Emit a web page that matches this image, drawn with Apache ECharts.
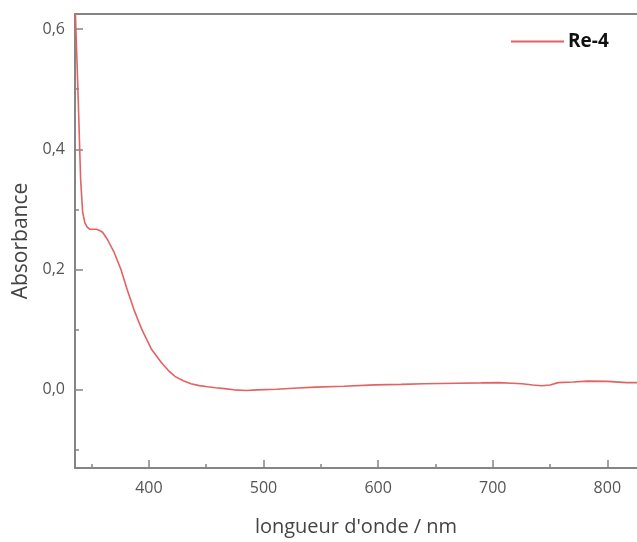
<!DOCTYPE html>
<html>
<head>
<meta charset="utf-8">
<script src="https://cdn.jsdelivr.net/npm/echarts@6/dist/echarts.min.js"></script>
<style>
html,body{margin:0;padding:0;background:#fff;}
#chart{width:637px;height:542px;}
</style>
</head>
<body>
<div id="chart"></div>
<script>
// Data (wavelength in nm, absorbance)
var wavelength = [335.6, 337.0, 338.3, 340.4, 342.2, 344.1, 346.0, 348.4, 354.2, 357.0, 359.6, 363.8, 369.8, 375.6, 381.0, 387.0, 393.9, 402.4, 411.0, 417.0, 423.0, 430.0, 436.7, 444.0, 451.3, 458.0, 465.9, 474.2, 485.0, 494.2, 511.3, 530.0, 545.6, 570.0, 597.0, 620.0, 639.9, 669.0, 690.0, 705.6, 716.7, 725.6, 735.0, 742.8, 750.0, 757.1, 770.0, 782.8, 800.0, 817.0, 826.0];
var absorbance = [0.640, 0.560, 0.483, 0.350, 0.295, 0.278, 0.271, 0.267, 0.267, 0.265, 0.262, 0.250, 0.228, 0.200, 0.167, 0.133, 0.100, 0.067, 0.045, 0.032, 0.022, 0.015, 0.010, 0.007, 0.005, 0.0035, 0.002, 0.000, -0.001, 0.000, 0.001, 0.003, 0.0045, 0.006, 0.0083, 0.009, 0.010, 0.011, 0.0115, 0.012, 0.011, 0.010, 0.008, 0.0067, 0.008, 0.012, 0.013, 0.0145, 0.014, 0.012, 0.012];
var seriesName = 'Re-4';
var xMajorTicks = [400, 500, 600, 700, 800];
var xMinorTicks = [350, 450, 550, 650, 750];
var yMajorTicks = [0, 0.2, 0.4, 0.6];
var yMinorTicks = [-0.1, 0.1, 0.3, 0.5];
var xTitle = "longueur d'onde / nm";
var yTitle = 'Absorbance';

var xMin = 335.5, xMax = 825.9, yMin = -0.130, yMax = 0.625;
var axisColor = '#858585';
var labelColor = '#555555';
var font = 'Open Sans';

var points = wavelength.map(function (w, i) { return [w, absorbance[i]]; });

var chart = echarts.init(document.getElementById('chart'), null, {renderer: 'canvas'});
chart.setOption({
  backgroundColor: '#ffffff',
  animation: false,
  textStyle: {fontFamily: font},
  grid: {left: 75, right: -10, top: 14, bottom: 73, containLabel: false},
  legend: {
    left: 506, top: 27,
    icon: 'rect', itemWidth: 53, itemHeight: 2, itemGap: 5,
    textStyle: {fontFamily: font, fontSize: 19, fontWeight: 'bold', color: '#111', padding: [0, 0, 0, -1]},
    data: [seriesName]
  },
  xAxis: [{
    type: 'value', position: 'bottom', min: xMin, max: xMax,
    axisLine: {show: true, onZero: false, lineStyle: {color: axisColor, width: 2}},
    axisTick: {show: true, inside: true, length: 8, customValues: xMajorTicks, lineStyle: {color: axisColor, width: 1.5}},
    axisLabel: {show: true, customValues: xMajorTicks, margin: 12, fontSize: 16, color: labelColor, fontFamily: font,
      formatter: function (v) { return String(v); }},
    splitLine: {show: false},
    name: xTitle, nameLocation: 'middle', nameGap: 49,
    nameTextStyle: {fontSize: 20, color: '#444', fontFamily: font}
  }, {
    type: 'value', position: 'bottom', min: xMin, max: xMax,
    axisLine: {show: false, onZero: false},
    axisTick: {show: true, inside: true, length: 4, customValues: xMinorTicks, lineStyle: {color: axisColor, width: 1.5}},
    axisLabel: {show: false},
    splitLine: {show: false}
  }, {
    type: 'value', position: 'top', min: xMin, max: xMax,
    axisLine: {show: true, onZero: false, lineStyle: {color: axisColor, width: 2}},
    axisTick: {show: false}, axisLabel: {show: false}, splitLine: {show: false}
  }],
  yAxis: [{
    type: 'value', position: 'left', min: yMin, max: yMax,
    axisLine: {show: true, onZero: false, lineStyle: {color: axisColor, width: 2}},
    axisTick: {show: true, inside: true, length: 8, customValues: yMajorTicks, lineStyle: {color: axisColor, width: 1.5}},
    axisLabel: {show: true, customValues: yMajorTicks, margin: 10, fontSize: 16, color: labelColor, fontFamily: font,
      formatter: function (v) { return v.toFixed(1).replace('.', ','); }},
    splitLine: {show: false},
    name: yTitle, nameLocation: 'middle', nameGap: 38,
    nameTextStyle: {fontSize: 21, color: '#444', fontFamily: font}
  }, {
    type: 'value', position: 'left', min: yMin, max: yMax,
    axisLine: {show: false, onZero: false},
    axisTick: {show: true, inside: true, length: 4, customValues: yMinorTicks, lineStyle: {color: axisColor, width: 1.5}},
    axisLabel: {show: false},
    splitLine: {show: false}
  }],
  series: [{
    name: seriesName, type: 'line', xAxisIndex: 0, yAxisIndex: 0,
    data: points, symbol: 'none', showSymbol: false,
    smooth: false, clip: true,
    lineStyle: {color: '#e36262', width: 1.6},
    itemStyle: {color: '#e36262'}
  }]
});
</script>
</body>
</html>
